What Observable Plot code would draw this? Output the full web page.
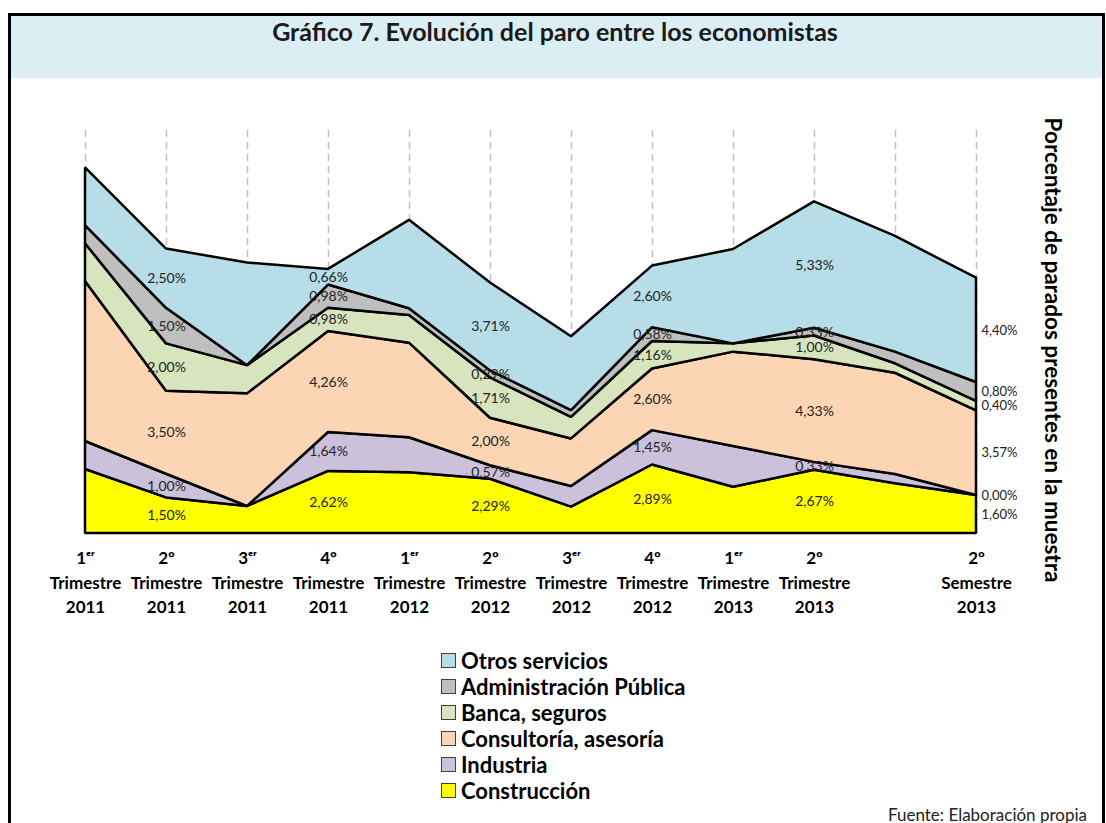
<!DOCTYPE html>
<html><head><meta charset="utf-8">
<script src="https://cdn.jsdelivr.net/npm/d3@7"></script>
<script src="https://cdn.jsdelivr.net/npm/@observablehq/plot@0.6"></script>
<style>
html,body{margin:0;padding:0;width:1106px;height:823px;overflow:hidden;background:#fff;font-family:Lato,"Open Sans",sans-serif;color:#000;}
#frame{position:absolute;left:8px;top:13px;width:1097px;height:900px;border:3px solid #000;box-sizing:border-box;}
#band{position:absolute;left:11px;top:16px;width:1091px;height:62px;background:#DAEEF3;}
#title{position:absolute;left:0;width:1110px;top:16px;text-align:center;font-weight:bold;font-size:25px;color:#1a1a1a;}
#chart{position:absolute;left:0;top:90px;}
#legend{position:absolute;left:441px;top:647px;}
.item{display:flex;align-items:center;height:26px;font-weight:bold;font-size:22px;white-space:nowrap;}
.sw{width:13px;height:13px;border:1.5px solid #404040;margin-right:5px;flex:none;}
#caption{position:absolute;right:19px;top:804px;font-size:17px;color:#222;}
</style></head>
<body>
<div id="frame"></div>
<div id="band"></div>
<div id="title">Gráfico 7. Evolución del paro entre los economistas</div>
<div id="chart"></div>
<div id="legend"></div>
<div id="caption">Fuente: Elaboración propia</div>
<script>
const periods = [0,1,2,3,4,5,6,7,8,9,10,11];
const tickLabels = [
  "1ᵉʳ\nTrimestre\n2011","2º\nTrimestre\n2011","3ᵉʳ\nTrimestre\n2011","4º\nTrimestre\n2011",
  "1ᵉʳ\nTrimestre\n2012","2º\nTrimestre\n2012","3ᵉʳ\nTrimestre\n2012","4º\nTrimestre\n2012",
  "1ᵉʳ\nTrimestre\n2013","2º\nTrimestre\n2013","","2º\nSemestre\n2013"
];
const series = ["Construcción","Industria","Consultoría, asesoría","Banca, seguros","Administración Pública","Otros servicios"];
const colors = ["#FFFF00","#CCC1DA","#FCD5B5","#D7E4BD","#BFBFBF","#B7DEE8"];
const construccion = [2.70, 1.50, 1.14, 2.62, 2.56, 2.29, 1.11, 2.89, 1.95, 2.67, 2.10, 1.60];
const industria    = [1.18, 1.00, 0.00, 1.64, 1.48, 0.57, 0.87, 1.45, 1.72, 0.33, 0.39, 0.00];
const consultoria  = [6.75, 3.50, 4.75, 4.26, 3.99, 2.00, 2.01, 2.60, 3.98, 4.33, 4.27, 3.57];
const banca        = [1.59, 2.00, 1.19, 0.98, 1.17, 1.71, 0.91, 1.16, 0.35, 1.00, 0.40, 0.40];
const administracion = [0.77, 1.50, 0.00, 0.98, 0.28, 0.29, 0.28, 0.58, 0.00, 0.33, 0.49, 0.80];
const otros        = [2.43, 2.50, 4.33, 0.66, 3.73, 3.71, 3.12, 2.60, 3.98, 5.33, 4.88, 4.40];
const labelPeriods = [1,3,5,7,9];
const lastPeriod = 11;

const values = [construccion, industria, consultoria, banca, administracion, otros];
const data = series.flatMap((s,i) => values[i].map((v,j) => ({period: j, serie: s, value: v})));
const fmt = v => v.toFixed(2).replace(".", ",") + "%";

const chart = Plot.plot({
  width: 1106, height: 550,
  marginTop: 40, marginBottom: 107, marginLeft: 80, marginRight: 126,
  style: {background: "transparent", fontFamily: "Lato, 'Open Sans', sans-serif"},
  x: {type: "point", domain: periods, padding: 0, axis: null},
  y: {domain: [0, 17], axis: null},
  color: {domain: series, range: colors},
  marks: [
    Plot.ruleX(periods, {x: d => d, y1: 0, y2: 17, stroke: "#bfbfbf", strokeWidth: 1.5, strokeDasharray: "7,5"}),
    Plot.areaY(data, {x: "period", y: "value", z: "serie", fill: "serie", stroke: "black", strokeWidth: 2.5, strokeLinejoin: "miter"}),
    Plot.text(data, Plot.stackY({filter: d => labelPeriods.includes(d.period), x: "period", y: "value", z: "serie",
      text: d => fmt(d.value), fontSize: 14, fill: "#222"})),
    Plot.text(data, Plot.stackY({filter: d => d.period === lastPeriod, x: "period", y: "value", z: "serie",
      text: d => fmt(d.value), fontSize: 13, fill: "#222", textAnchor: "start", dx: 5})),
    Plot.axisX({tickFormat: i => tickLabels[i], tickSize: 0, tickPadding: 13, fontSize: 17, fontWeight: "bold", lineHeight: 1.45, label: null, fill: "#000"}),
    Plot.text(["Porcentaje de parados presentes en la muestra"], {frameAnchor: "right", dx: 72, dy: 18, rotate: 90,
      textAnchor: "middle", fontSize: 22.5, fontWeight: "bold", fill: "#000"})
  ]
});
document.getElementById("chart").appendChild(chart);

const legend = document.getElementById("legend");
series.slice().reverse().forEach(s => {
  const it = document.createElement("div");
  it.className = "item";
  const sw = document.createElement("span");
  sw.className = "sw";
  sw.style.background = colors[series.indexOf(s)];
  it.appendChild(sw);
  it.appendChild(document.createTextNode(s));
  legend.appendChild(it);
});
</script>
</body></html>
